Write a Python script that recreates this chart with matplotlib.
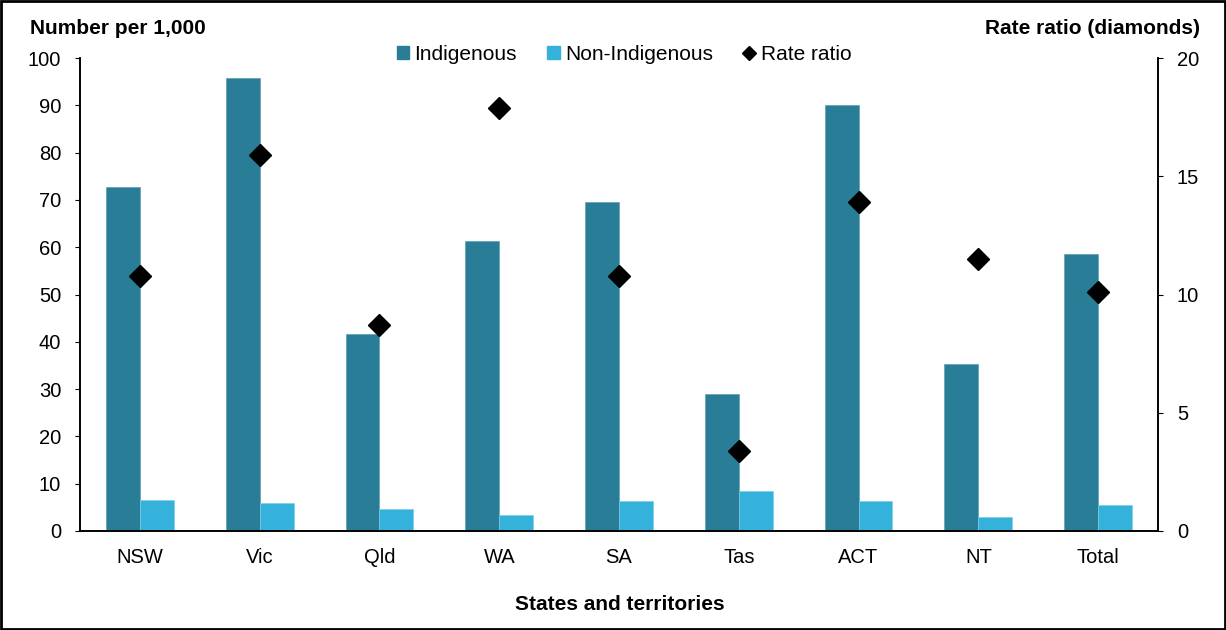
import matplotlib
matplotlib.use("Agg")
import matplotlib.pyplot as plt
import numpy as np
from matplotlib.lines import Line2D
from matplotlib.patches import Patch, Rectangle

plt.rcParams['font.family'] = ['Liberation Sans', 'DejaVu Sans']

states = ['NSW', 'Vic', 'Qld', 'WA', 'SA', 'Tas', 'ACT', 'NT', 'Total']
indigenous = [72.7, 95.8, 41.6, 61.3, 69.6, 29.0, 90.1, 35.3, 58.6]
non_indigenous = [6.6, 5.9, 4.7, 3.3, 6.4, 8.5, 6.4, 2.9, 5.6]
rate_ratio = [10.8, 15.9, 8.7, 17.9, 10.8, 3.4, 13.9, 11.5, 10.1]

c_ind = '#297D97'
c_non = '#35B2DC'

fig = plt.figure(figsize=(12.26, 6.30), dpi=100)
ax = fig.add_axes([80/1226, 1 - 531/630, (1158-80)/1226, (531-58)/630])
ax2 = ax.twinx()

x = np.arange(len(states))
w = 0.283
ax.bar(x - w/2, indigenous, w, color=c_ind, edgecolor='#5fa0b4', linewidth=0.5, zorder=2)
ax.bar(x + w/2, non_indigenous, w, color=c_non, edgecolor='#7fcde8', linewidth=0.5, zorder=2)
ax2.plot(x, rate_ratio, linestyle='none', marker='D', markersize=11.5, color='black')

ax.set_xlim(-0.5, len(states) - 0.5)
ax.set_ylim(0, 100)
ax.set_yticks(range(0, 101, 10))
ax2.set_ylim(0, 20)
ax2.set_yticks(range(0, 21, 5))

ax.set_xticks(x)
ax.set_xticklabels(states)
ax.tick_params(axis='x', length=0, labelsize=14.5, pad=12)
ax.tick_params(axis='y', direction='out', length=3.5, labelsize=14.5, pad=10)
ax2.tick_params(axis='y', direction='out', length=3.5, labelsize=14.5, pad=10)

for a in (ax, ax2):
    a.spines['top'].set_visible(False)
    for s in a.spines.values():
        s.set_linewidth(1.2)

fig.text(30/1226, 1 - 28/630, 'Number per 1,000', fontsize=15, fontweight='bold', va='center', ha='left')
fig.text(1200/1226, 1 - 28/630, 'Rate ratio (diamonds)', fontsize=15, fontweight='bold', va='center', ha='right')
fig.text(620/1226, 1 - 605/630, 'States and territories', fontsize=15, fontweight='bold', va='center', ha='center')

handles = [Patch(color=c_ind, label='Indigenous'),
           Patch(color=c_non, label='Non-Indigenous'),
           Line2D([], [], linestyle='none', marker='D', markersize=7, color='black', label='Rate ratio')]
fig.legend(handles=handles, loc='center', bbox_to_anchor=(624/1226, 1 - 54/630), ncol=3,
           frameon=False, fontsize=15, handlelength=0.6, handleheight=0.6,
           handletextpad=0.25, columnspacing=1.45)

fig.patches.append(Rectangle((0.001, 0.001), 0.998, 0.998, transform=fig.transFigure,
                             fill=False, edgecolor='black', linewidth=2))

fig.savefig('out.png', dpi=100)
